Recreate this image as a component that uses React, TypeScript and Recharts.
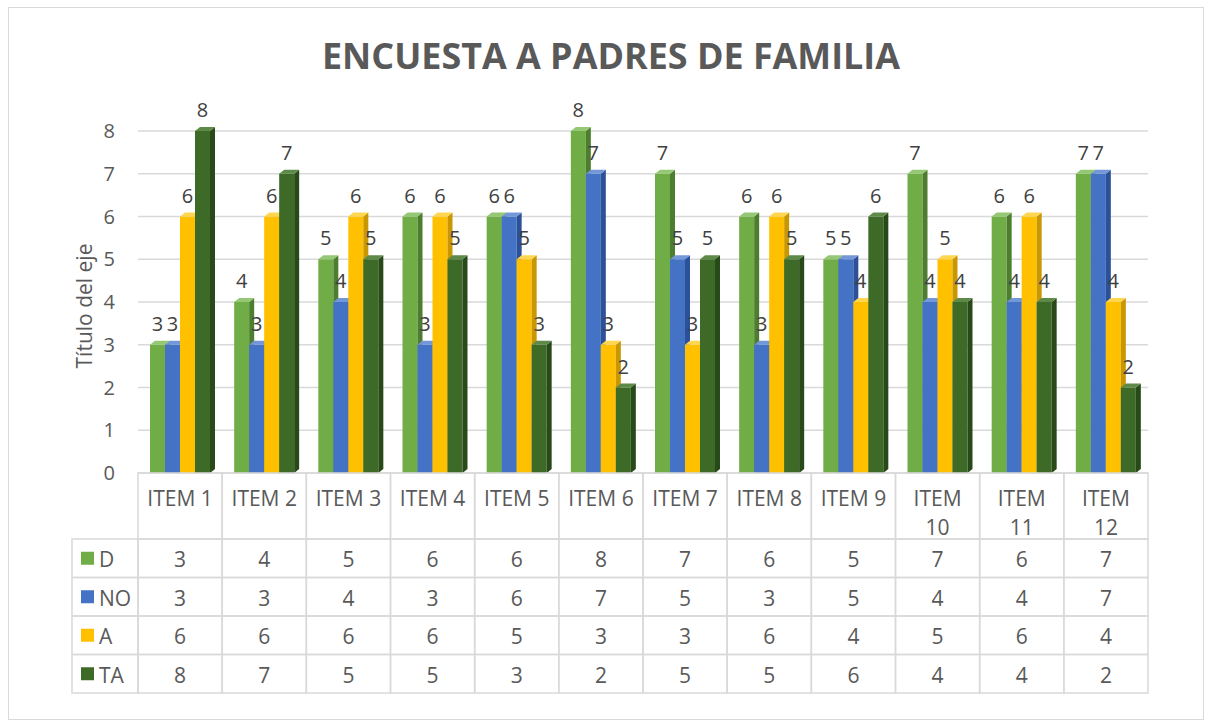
import React from "react";
import { BarChart, Bar, XAxis, YAxis, CartesianGrid, LabelList } from "recharts";

const ITEMS = ["ITEM 1", "ITEM 2", "ITEM 3", "ITEM 4", "ITEM 5", "ITEM 6", "ITEM 7", "ITEM 8", "ITEM 9", "ITEM 10", "ITEM 11", "ITEM 12"];
const D = [3, 4, 5, 6, 6, 8, 7, 6, 5, 7, 6, 7];
const NO = [3, 3, 4, 3, 6, 7, 5, 3, 5, 4, 4, 7];
const A = [6, 6, 6, 6, 5, 3, 3, 6, 4, 5, 6, 4];
const TA = [8, 7, 5, 5, 3, 2, 5, 5, 6, 4, 4, 2];
const Y_TICKS = [0, 1, 2, 3, 4, 5, 6, 7, 8];
const TITLE = "ENCUESTA A PADRES DE FAMILIA";
const Y_TITLE = "Título del eje";

const SERIES = [
  { key: "D", values: D, front: "#70ad47", side: "#4d7d2e", top: "#94c874" },
  { key: "NO", values: NO, front: "#4472c4", side: "#2c5199", top: "#7397d8" },
  { key: "A", values: A, front: "#ffc000", side: "#c99700", top: "#ffd650" },
  { key: "TA", values: TA, front: "#3e6a28", side: "#284a18", top: "#5e8a47" },
];

const data = ITEMS.map((item, i) => {
  const row: any = { item };
  SERIES.forEach((s) => (row[s.key] = s.values[i]));
  return row;
});

// layout constants
const W = 1211;
const H = 727;
const M_LEFT = 78;
const Y_W = 60;
const M_RIGHT = 63;
const M_TOP = 131;
const X_H = 30;
const M_BOTTOM = 254 - X_H;
const COL_W = (W - M_LEFT - Y_W - M_RIGHT) / ITEMS.length;
const TABLE_TOP = 473;
const HEADER_BOTTOM = 539;
const ROW_H = (693 - 539) / 4;
const LEG_LEFT = 72;
const GRID = "#d9d9d9";
const TXT = "#595959";
const FONT = "'Open Sans', sans-serif";
const FS = 20;
const FS_TABLE = 21;

const Bar3D = (props: any) => {
  const { x, y, width, height, front, side, top } = props;
  if (height == null || width == null) return null;
  const d = 5;
  const dy = 4;
  return (
    <g>
      <rect x={x} y={y} width={width} height={height} fill={front} />
      <polygon points={`${x + width},${y} ${x + width + d},${y - dy} ${x + width + d},${y + height - dy} ${x + width},${y + height}`} fill={side} />
      <polygon points={`${x},${y} ${x + d},${y - dy} ${x + width + d},${y - dy} ${x + width},${y}`} fill={top} />
    </g>
  );
};

const TableTick = (props: any) => {
  const { x, payload, index } = props;
  const x0 = x - COL_W / 2;
  const label: string = payload.value;
  const parts = label.split(" ");
  const wrap = label.length > 6;
  const idx = ITEMS.indexOf(label);
  return (
    <g fontFamily={FONT}>
      <rect x={x0} y={TABLE_TOP} width={COL_W} height={HEADER_BOTTOM - TABLE_TOP} fill="none" stroke={GRID} strokeWidth={1.5} />
      {wrap ? (
        <>
          <text x={x} y={498} textAnchor="middle" dominantBaseline="central" fontSize={FS_TABLE} fill={TXT}>{parts[0]}</text>
          <text x={x} y={527} textAnchor="middle" dominantBaseline="central" fontSize={FS_TABLE} fill={TXT}>{parts[1]}</text>
        </>
      ) : (
        <text x={x} y={498} textAnchor="middle" dominantBaseline="central" fontSize={FS_TABLE} fill={TXT}>{label}</text>
      )}
      {SERIES.map((s, r) => {
        const ry = HEADER_BOTTOM + r * ROW_H;
        return (
          <g key={s.key}>
            <rect x={x0} y={ry} width={COL_W} height={ROW_H} fill="none" stroke={GRID} strokeWidth={1.5} />
            <text x={x} y={ry + ROW_H / 2 + 1} textAnchor="middle" dominantBaseline="central" fontSize={FS_TABLE} fill={TXT}>
              {s.values[idx]}
            </text>
            {index === 0 && (
              <g>
                <rect x={LEG_LEFT} y={ry} width={x0 - LEG_LEFT} height={ROW_H} fill="none" stroke={GRID} strokeWidth={1.5} />
                <rect x={81} y={ry + ROW_H / 2 - 6.5} width={13} height={13} fill={s.front} />
                <text x={99} y={ry + ROW_H / 2 + 1} dominantBaseline="central" fontSize={FS_TABLE} fill={TXT}>{s.key}</text>
              </g>
            )}
          </g>
        );
      })}
    </g>
  );
};

export default function App() {
  const yMid = 306;
  return (
    <div style={{ position: "absolute", left: 0, top: 0, width: W, height: H, background: "#fff", fontFamily: FONT }}>
      <div style={{ position: "absolute", left: 8, top: 7, width: 1194, height: 711, border: `1.5px solid ${GRID}` }} />
      <div style={{ position: "absolute", left: 0, top: 0 }}>
        <BarChart width={W} height={H} data={data} margin={{ top: M_TOP, right: M_RIGHT, bottom: M_BOTTOM, left: M_LEFT }} barGap={0} barSize={15} style={{ fontFamily: FONT }}>
          <CartesianGrid vertical={false} stroke={GRID} strokeWidth={1.5} />
          <XAxis dataKey="item" height={X_H} interval={0} tickLine={false} axisLine={false} tick={<TableTick />} />
          <YAxis
            width={Y_W}
            domain={[0, 8]}
            ticks={Y_TICKS}
            interval={0}
            axisLine={false}
            tickLine={false}
            tickMargin={17}
            tick={{ fill: TXT, fontSize: FS }}
          />
          {SERIES.map((s) => (
            <Bar key={s.key} dataKey={s.key} isAnimationActive={false} shape={(p: any) => <Bar3D {...p} front={s.front} side={s.side} top={s.top} />}>
              <LabelList dataKey={s.key} position="top" offset={14} fill="#404040" fontSize={FS} fontFamily={FONT} />
            </Bar>
          ))}
        </BarChart>
      </div>
      <svg style={{ position: "absolute", left: 0, top: 0, pointerEvents: "none" }} width={W} height={H}>
        <text x={611} y={55} textAnchor="middle" dominantBaseline="central" fontSize={35} fontWeight={700} fill={TXT} fontFamily={FONT} textLength={578} lengthAdjust="spacingAndGlyphs">
          {TITLE}
        </text>
        <text x={84} y={yMid} transform={`rotate(-90 84 ${yMid})`} textAnchor="middle" dominantBaseline="central" fontSize={21} fill={TXT} fontFamily={FONT}>
          {Y_TITLE}
        </text>
      </svg>
    </div>
  );
}
